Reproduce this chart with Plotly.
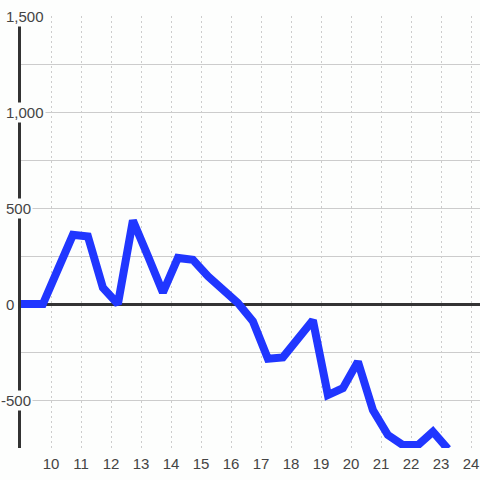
import plotly.graph_objects as go

# values
x_vals = [8.73, 9.23, 9.73, 10.23, 10.73, 11.23, 11.73, 12.23, 12.73, 13.23, 13.73,
          14.23, 14.73, 15.23, 15.73, 16.23, 16.73, 17.23, 17.73, 18.23, 18.73,
          19.23, 19.73, 20.23, 20.73, 21.23, 21.73, 22.23, 22.73, 23.23]
y_vals = [0, 0, 0, 180, 360, 352, 85, 0, 435, 250, 60,
          240, 230, 145, 75, 5, -90, -285, -278, -175, -85,
          -474, -438, -300, -552, -682, -735, -735, -665, -755]

x_ticks = list(range(10, 25))
y_ticks = [1500, 1000, 500, 0, -500]
y_tick_text = ["1,500", "1,000", "500", "0", "-500"]

BG = "#fdfefd"
GRID = "#cccccc"
TEXT = "#444444"

fig = go.Figure()
fig.add_trace(go.Scatter(x=x_vals, y=y_vals, mode="lines",
                         line=dict(color="#2036ff", width=8), hoverinfo="skip"))

# y labels sit over the axis line with a background box, like the original
for v, t in zip(y_ticks, y_tick_text):
    fig.add_annotation(x=-0.0305, xref="paper", y=v, yref="y", text=t, showarrow=False,
                       xanchor="left", yanchor="middle", xshift=-8 if v < 0 else -3,
                       bgcolor=BG, borderpad=1, font=dict(size=15, color=TEXT))

fig.update_xaxes(range=[9, 24.3], tickvals=x_ticks, showgrid=True, gridcolor=GRID,
                 gridwidth=1, griddash="2px,3px", zeroline=False, showline=False,
                 ticks="", ticklabelstandoff=5, tickfont=dict(size=15, color=TEXT))
fig.update_yaxes(range=[-750, 1500], dtick=250, showticklabels=False, showgrid=True,
                 gridcolor=GRID, gridwidth=1, zeroline=True, zerolinecolor="#333333",
                 zerolinewidth=3, showline=True, linecolor="#333333", linewidth=3,
                 ticks="")
fig.update_layout(width=480, height=480, margin=dict(l=21, r=0, t=16, b=32),
                  paper_bgcolor=BG, plot_bgcolor=BG, showlegend=False,
                  font=dict(family="Liberation Sans, Arial, sans-serif", color=TEXT))

# drop the default 8px body margin so the figure fills the window
fig.write_html("out.html", config={"displayModeBar": False},
               post_script="document.body.style.margin='0';")
